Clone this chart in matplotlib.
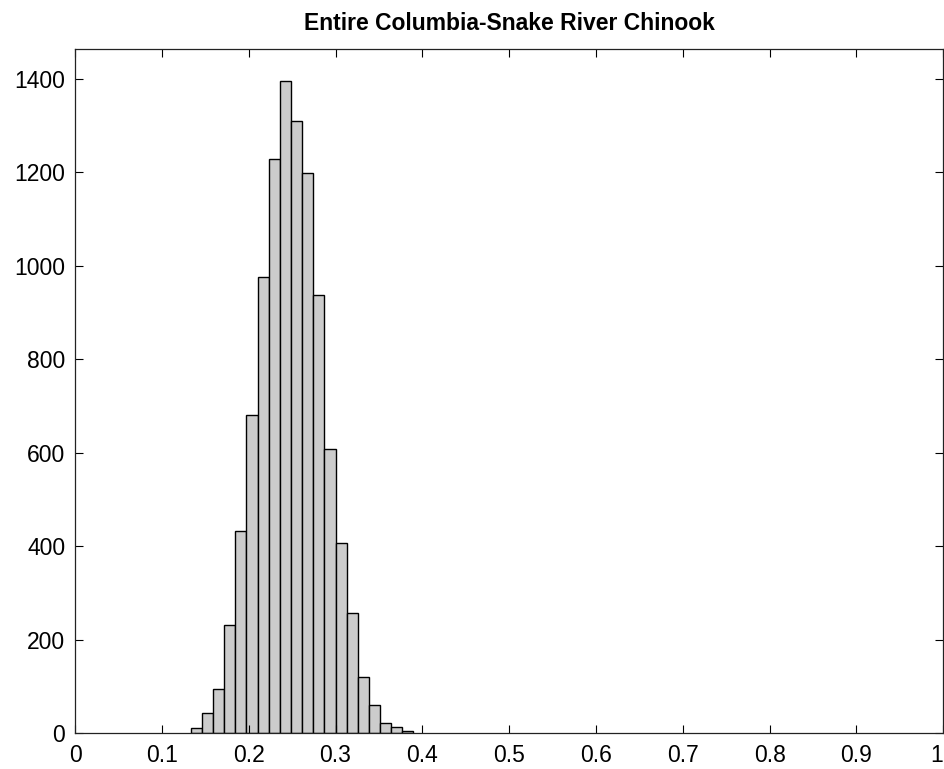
import numpy as np
import matplotlib
matplotlib.use('Agg')
import matplotlib.pyplot as plt

plt.rcParams['font.family'] = ['Liberation Sans', 'DejaVu Sans']

# histogram
bin_start = 0.1333
bin_end = 0.3898
counts = [12, 44, 95, 232, 433, 681, 977, 1229, 1396, 1311,
          1199, 938, 608, 408, 257, 121, 61, 23, 14, 5]
x_ticks = [0, 0.1, 0.2, 0.3, 0.4, 0.5, 0.6, 0.7, 0.8, 0.9, 1]
x_labels = ['0', '0.1', '0.2', '0.3', '0.4', '0.5', '0.6', '0.7', '0.8', '0.9', '1']
y_ticks = [0, 200, 400, 600, 800, 1000, 1200, 1400]
title = 'Entire Columbia-Snake River Chinook'

edges = np.linspace(bin_start, bin_end, len(counts) + 1)
widths = np.diff(edges)

fig = plt.figure(figsize=(9.45, 7.69), dpi=100)
ax = fig.add_axes([0.0794, 0.0464, 0.9188, 0.8899])
ax.bar(edges[:-1], counts, width=widths, align='edge',
       color='#cccccc', edgecolor='black', linewidth=1.0)

ax.set_xlim(0, 1)
ax.set_ylim(0, 1464)
ax.set_xticks(x_ticks)
ax.set_xticklabels(x_labels)
ax.set_yticks(y_ticks)
ax.tick_params(direction='in', length=6, width=0.8, labelsize=16.5,
               top=True, right=True)
ax.tick_params(axis='x', pad=8)
ax.tick_params(axis='y', pad=7)
# last label sits at the figure edge
ax.get_xticklabels()[-1].set_horizontalalignment('right')
ax.get_xticklabels()[-1].set_x(1.0)
for s in ax.spines.values():
    s.set_linewidth(0.9)
    s.set_color('#222222')

ax.set_title(title, fontsize=16.5, fontweight='bold', pad=14)

fig.savefig('out.png', dpi=100)
